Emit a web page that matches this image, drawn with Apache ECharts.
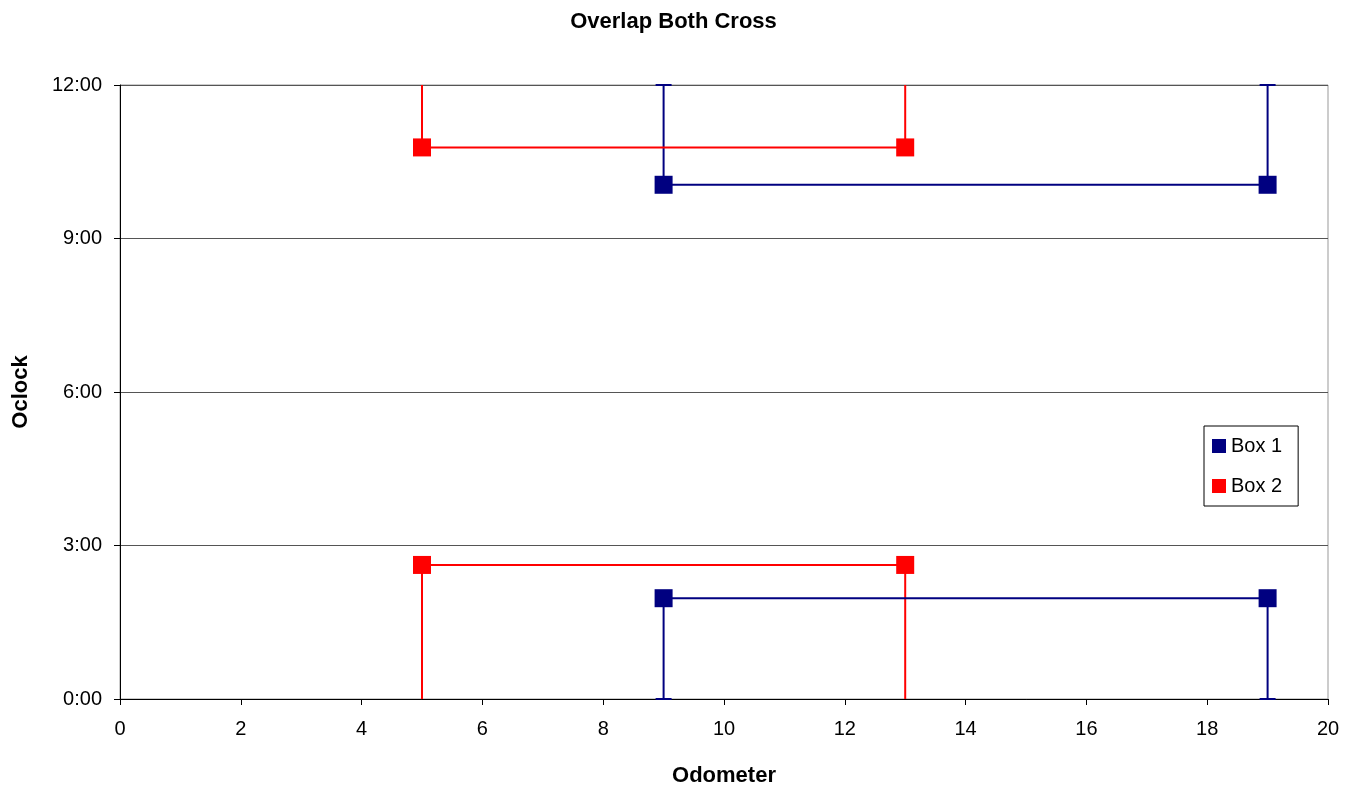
<!DOCTYPE html>
<html>
<head>
<meta charset="utf-8">
<script src="https://cdn.jsdelivr.net/npm/echarts@6/dist/echarts.min.js"></script>
<style>
  html, body { margin: 0; padding: 0; background: #fff; }
  #chart { width: 1347px; height: 791px; }
</style>
</head>
<body>
<div id="chart"></div>
<script>
// Odometer positions of each box's two ends
const box1Odometer = [9, 19];
const box2Odometer = [5, 13];
// Clock positions (hours) of the upper and lower edges
const box1Upper = [10.05, 10.05];
const box1Lower = [1.97, 1.97];
const box2Upper = [10.78, 10.78];
const box2Lower = [2.62, 2.62];
// Clock range and tick labels
const clockMin = 0;
const clockMax = 12;
const clockTicks = ['0:00', '3:00', '6:00', '9:00', '12:00'];

const FONT = 'Arial, "Liberation Sans", sans-serif';
const NAVY = '#000080';
const RED = '#FF0000';

function points(xs, ys) {
  return xs.map((x, i) => [x, ys[i]]);
}
// Vertical bars: from each edge out to the clock bound (12:00 above, 0:00 below)
function bars(xs, upper, lower) {
  const out = [];
  xs.forEach((x, i) => {
    out.push([x, upper[i], clockMax]);
    out.push([x, lower[i], clockMin]);
  });
  return out;
}

function barSeries(name, color, data, capped) {
  return {
    name: name,
    type: 'custom',
    data: data,
    itemStyle: { color: color },
    encode: { x: 0, y: [1, 2] },
    renderItem: function (params, api) {
      const x = api.value(0);
      const p0 = api.coord([x, api.value(1)]);
      const p1 = api.coord([x, api.value(2)]);
      const style = { stroke: color, lineWidth: 2 };
      const children = [{
        type: 'line',
        shape: { x1: p0[0], y1: p0[1], x2: p1[0], y2: p1[1] },
        style: style
      }];
      if (capped) {
        children.push({
          type: 'line',
          shape: { x1: p1[0] - 8, y1: p1[1], x2: p1[0] + 8, y2: p1[1] },
          style: style
        });
      }
      return { type: 'group', children: children };
    },
    z: 2
  };
}

function edgeSeries(name, color, data) {
  return {
    name: name,
    type: 'line',
    data: data,
    symbol: 'rect',
    symbolSize: 18,
    itemStyle: { color: color },
    lineStyle: { color: color, width: 2 },
    animation: false,
    z: 3
  };
}

const chart = echarts.init(document.getElementById('chart'), null, { renderer: 'canvas' });
chart.setOption({
  animation: false,
  backgroundColor: '#fff',
  textStyle: { fontFamily: FONT },
  title: {
    text: 'Overlap Both Cross',
    left: 'center',
    top: 6,
    textStyle: { fontFamily: FONT, fontSize: 22, fontWeight: 'bold', color: '#000' }
  },
  legend: {
    data: [
      { name: 'Box 1', itemStyle: { color: NAVY } },
      { name: 'Box 2', itemStyle: { color: RED } }
    ],
    orient: 'vertical',
    left: 1204,
    top: 426,
    icon: 'rect',
    itemWidth: 14,
    itemHeight: 14,
    itemGap: 20,
    padding: [10, 16, 10, 8],
    borderColor: '#000',
    borderWidth: 1,
    textStyle: { fontFamily: FONT, fontSize: 20, color: '#000' }
  },
  grid: {
    left: 120, right: 19, top: 85, bottom: 92,
    outerBoundsMode: 'none',
    containLabel: false,
    show: true, borderColor: '#999', borderWidth: 1, backgroundColor: 'transparent'
  },
  xAxis: {
    type: 'value',
    min: 0, max: 20, interval: 2,
    name: 'Odometer',
    nameLocation: 'middle',
    nameGap: 66,
    nameTextStyle: { fontFamily: FONT, fontSize: 22, fontWeight: 'bold', color: '#000' },
    axisLine: { show: true, onZero: false, lineStyle: { color: '#000', width: 1 } },
    axisTick: { show: true, inside: false, length: 6, lineStyle: { color: '#000' } },
    axisLabel: { fontFamily: FONT, fontSize: 20, color: '#000', margin: 20 },
    splitLine: { show: false }
  },
  yAxis: {
    type: 'value',
    min: clockMin, max: clockMax, interval: 3,
    name: 'Oclock',
    nameLocation: 'middle',
    nameGap: 88,
    nameTextStyle: { fontFamily: FONT, fontSize: 22, fontWeight: 'bold', color: '#000' },
    axisLine: { show: true, lineStyle: { color: '#000', width: 1 } },
    axisTick: { show: true, inside: false, length: 6, lineStyle: { color: '#000' } },
    axisLabel: {
      fontFamily: FONT, fontSize: 20, color: '#000', margin: 18,
      formatter: function (v) { return clockTicks[Math.round((v - clockMin) / 3)]; }
    },
    splitLine: { show: true, lineStyle: { color: '#555', width: 1 } }
  },
  series: [
    barSeries('Box 1', NAVY, bars(box1Odometer, box1Upper, box1Lower), true),
    edgeSeries('Box 1', NAVY, points(box1Odometer, box1Upper)),
    edgeSeries('Box 1', NAVY, points(box1Odometer, box1Lower)),
    barSeries('Box 2', RED, bars(box2Odometer, box2Upper, box2Lower), false),
    edgeSeries('Box 2', RED, points(box2Odometer, box2Upper)),
    edgeSeries('Box 2', RED, points(box2Odometer, box2Lower))
  ]
});
</script>
</body>
</html>
